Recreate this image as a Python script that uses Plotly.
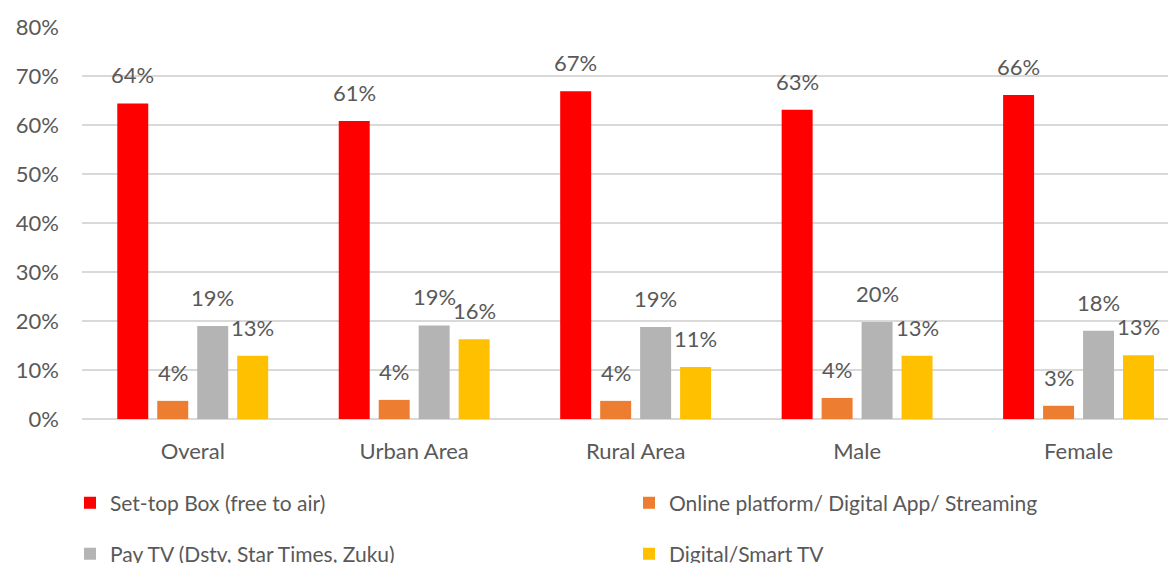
import plotly.graph_objects as go

categories = ["Overal", "Urban Area", "Rural Area", "Male", "Female"]
series_names = [
    "Set-top Box (free to air)",
    "Online platform/ Digital App/ Streaming",
    "Pay TV (Dstv, Star Times, Zuku)",
    "Digital/Smart TV",
]
set_top_box = [0.644, 0.608, 0.669, 0.631, 0.661]
online_platform = [0.037, 0.039, 0.037, 0.043, 0.027]
pay_tv = [0.190, 0.191, 0.188, 0.198, 0.180]
smart_tv = [0.129, 0.163, 0.106, 0.129, 0.130]
colors = ["#FF0000", "#ED7D31", "#B4B4B4", "#FFC000"]

all_series = [set_top_box, online_platform, pay_tv, smart_tv]

FONT = "Lato"
TXT = "#595959"
BARGAP = 0.278
GROUPGAP = 0.225
W, H = 1176, 563

legend_ids = ["legend", "legend2", "legend3", "legend4"]
legend_pos = [(62, 495), (621, 495), (62, 546), (621, 546)]

fig = go.Figure()
for k, (name, vals, col) in enumerate(zip(series_names, all_series, colors)):
    fig.add_trace(go.Bar(
        x=categories, y=vals, name=name, marker_color=col,
        marker_line_width=0, legend=legend_ids[k],
    ))

# data labels above each bar
n = len(all_series)
slot = (1 - BARGAP) / n
annotations = []
for k, vals in enumerate(all_series):
    off = -(1 - BARGAP) / 2 + slot * (k + 0.5)
    for i, v in enumerate(vals):
        annotations.append(dict(
            x=i + off, y=v, xref="x", yref="y", text=f"{round(v*100):.0f}%",
            showarrow=False, yanchor="bottom", yshift=13,
            font=dict(family=FONT, size=22, color=TXT),
        ))

legends = {}
for lid, (px, py) in zip(legend_ids, legend_pos):
    legends[lid] = dict(
        orientation="h", xref="container", yref="container",
        x=px / W, y=1 - py / H, xanchor="left", yanchor="middle",
        font=dict(family=FONT, size=21, color=TXT),
        bgcolor="rgba(0,0,0,0)",
    )

fig.update_layout(
    width=W, height=H,
    margin=dict(l=74, r=8, t=19, b=152, autoexpand=False),
    paper_bgcolor="white", plot_bgcolor="white",
    barmode="group", bargap=BARGAP, bargroupgap=GROUPGAP,
    font=dict(family=FONT, size=22, color=TXT),
    annotations=annotations,
    showlegend=True,
    **legends,
)
fig.update_xaxes(
    type="category", range=[-0.5, 4.44], showgrid=False, showline=False,
    ticks="", ticklabelstandoff=17, tickfont=dict(family=FONT, size=22, color=TXT),
)
fig.update_yaxes(
    range=[0, 0.8], dtick=0.1, tickformat=".0%", showgrid=True,
    gridcolor="#D9D9D9", gridwidth=1.5, zeroline=True, zerolinecolor="#D9D9D9",
    zerolinewidth=1.5, showline=False, ticks="", ticklabelstandoff=22,
    tickfont=dict(family=FONT, size=22, color=TXT),
)

fig.write_html("out.html")
